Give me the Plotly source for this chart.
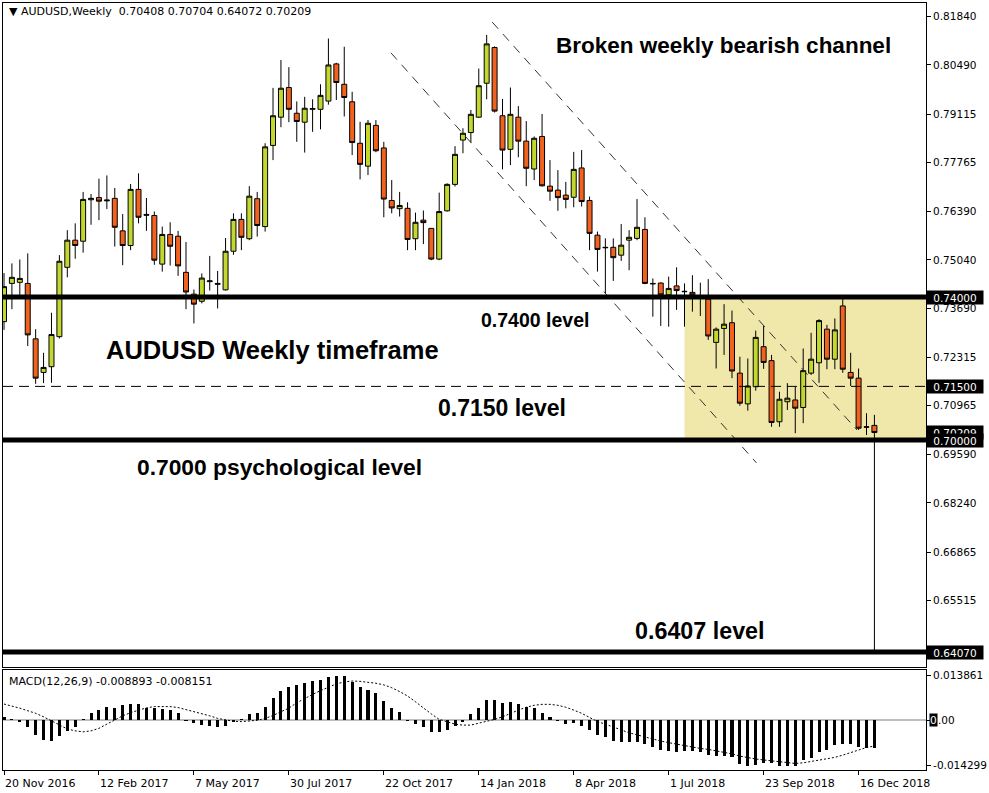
import plotly.graph_objects as go
from datetime import datetime, timedelta

# ---------------- data ----------------
START = datetime(2016, 11, 20)
N_WEEKS = 111
week_dates = [START + timedelta(days=7 * i) for i in range(N_WEEKS)]

opens = [0.7331, 0.7438, 0.7441, 0.7438, 0.7283, 0.7189, 0.7205, 0.7289, 0.7483, 0.7559,
         0.7556, 0.7672, 0.7678, 0.7669, 0.7676, 0.7585, 0.7544, 0.7701, 0.7631, 0.7628,
         0.7492, 0.7575, 0.7570, 0.7469, 0.7408, 0.7388, 0.7443, 0.7438, 0.7420, 0.7528,
         0.7617, 0.7563, 0.7675, 0.7597, 0.7824, 0.7903, 0.7986, 0.7914, 0.7889, 0.7925,
         0.7925, 0.7948, 0.8052, 0.7995, 0.7946, 0.7830, 0.7766, 0.7880, 0.7817, 0.7670,
         0.7647, 0.7648, 0.7563, 0.7615, 0.7592, 0.7506, 0.7641, 0.7715, 0.7839, 0.7860,
         0.7903, 0.7998, 0.8098, 0.7907, 0.7813, 0.7903, 0.7836, 0.7758, 0.7849, 0.7710,
         0.7699, 0.7685, 0.7679, 0.7761, 0.7670, 0.7573, 0.7539, 0.7539, 0.7517, 0.7559,
         0.7564, 0.7589, 0.7438, 0.7439, 0.7406, 0.7431, 0.7416, 0.7413, 0.7401, 0.7394,
         0.7273, 0.7312, 0.7328, 0.7187, 0.7101, 0.7149, 0.7261, 0.7222, 0.7051, 0.7107,
         0.7112, 0.7091, 0.7187, 0.7216, 0.7310, 0.7226, 0.7375, 0.7189, 0.7173, 0.7037,
         0.70408]
highs = [0.7467, 0.7494, 0.7505, 0.7522, 0.7310, 0.7244, 0.7356, 0.7517, 0.7587, 0.7606,
         0.7694, 0.7688, 0.7731, 0.7740, 0.7705, 0.7632, 0.7716, 0.7746, 0.7677, 0.7639,
         0.7597, 0.7609, 0.7585, 0.7554, 0.7421, 0.7466, 0.7515, 0.7473, 0.7565, 0.7634,
         0.7634, 0.7710, 0.7694, 0.7830, 0.7985, 0.8063, 0.8043, 0.7947, 0.7960, 0.7953,
         0.7995, 0.8123, 0.8055, 0.8100, 0.7974, 0.7890, 0.7895, 0.7895, 0.7834, 0.7727,
         0.7694, 0.7665, 0.7636, 0.7642, 0.7593, 0.7692, 0.7718, 0.7822, 0.7872, 0.7923,
         0.8039, 0.8133, 0.8101, 0.7954, 0.7986, 0.7934, 0.7892, 0.7849, 0.7912, 0.7783,
         0.7755, 0.7722, 0.7806, 0.7811, 0.7681, 0.7583, 0.7564, 0.7564, 0.7604, 0.7587,
         0.7674, 0.7623, 0.7452, 0.7441, 0.7457, 0.7483, 0.7438, 0.7461, 0.7440, 0.7450,
         0.7315, 0.7380, 0.7362, 0.7233, 0.7228, 0.7306, 0.7319, 0.7238, 0.7135, 0.7159,
         0.7149, 0.7256, 0.7300, 0.7338, 0.7322, 0.7340, 0.7394, 0.7244, 0.7200, 0.7075,
         0.70704]
lows = [0.7308, 0.7366, 0.7406, 0.7263, 0.7157, 0.7159, 0.7160, 0.7284, 0.7455, 0.7507,
        0.7524, 0.7602, 0.7615, 0.7646, 0.7541, 0.7489, 0.7531, 0.7606, 0.7585, 0.7490,
        0.7471, 0.7488, 0.7459, 0.7366, 0.7326, 0.7382, 0.7418, 0.7368, 0.7418, 0.7518,
        0.7531, 0.7559, 0.7569, 0.7583, 0.7783, 0.7875, 0.7889, 0.7834, 0.7804, 0.7862,
        0.7869, 0.7938, 0.7951, 0.7905, 0.7797, 0.7729, 0.7741, 0.7805, 0.7623, 0.7634,
        0.7625, 0.7531, 0.7531, 0.7548, 0.7503, 0.7503, 0.7639, 0.7709, 0.7802, 0.7832,
        0.7901, 0.7953, 0.7916, 0.7757, 0.7769, 0.7791, 0.7710, 0.7727, 0.7709, 0.7669,
        0.7641, 0.7648, 0.7651, 0.7653, 0.7531, 0.7471, 0.7410, 0.7445, 0.7501, 0.7475,
        0.7559, 0.7436, 0.7345, 0.7319, 0.7317, 0.7364, 0.7317, 0.7359, 0.7347, 0.7280,
        0.7200, 0.7238, 0.7173, 0.7096, 0.7082, 0.7138, 0.7199, 0.7037, 0.7037, 0.7084,
        0.7019, 0.7047, 0.7182, 0.7160, 0.7198, 0.7198, 0.7188, 0.7151, 0.7028, 0.7014,
        0.64072]
closes = [0.7429, 0.7455, 0.7452, 0.7294, 0.7173, 0.7203, 0.7295, 0.7500, 0.7559, 0.7544,
          0.7673, 0.7676, 0.7668, 0.7671, 0.7595, 0.7544, 0.7701, 0.7623, 0.7629, 0.7503,
          0.7575, 0.7542, 0.7487, 0.7414, 0.7380, 0.7453, 0.7445, 0.7436, 0.7528, 0.7617,
          0.7567, 0.7682, 0.7600, 0.7820, 0.7907, 0.7984, 0.7925, 0.7891, 0.7928, 0.7927,
          0.7964, 0.8049, 0.8000, 0.7958, 0.7832, 0.7771, 0.7886, 0.7809, 0.7674, 0.7649,
          0.7656, 0.7561, 0.7609, 0.7608, 0.7506, 0.7639, 0.7715, 0.7799, 0.7858, 0.7911,
          0.7991, 0.8108, 0.7920, 0.7811, 0.7911, 0.7836, 0.7760, 0.7844, 0.7711, 0.7696,
          0.7678, 0.7673, 0.7757, 0.7667, 0.7578, 0.7533, 0.7538, 0.7510, 0.7545, 0.7567,
          0.7595, 0.7438, 0.7437, 0.7406, 0.7424, 0.7418, 0.7415, 0.7406, 0.7400, 0.7291,
          0.7310, 0.7324, 0.7193, 0.7103, 0.7151, 0.7287, 0.7217, 0.7049, 0.7114, 0.7117,
          0.7089, 0.7194, 0.7226, 0.7334, 0.7226, 0.7308, 0.7198, 0.7173, 0.7033, 0.7036,
          0.70209]

macd_main = [0.0008, 0.0002, -0.0005, -0.0021, -0.0047, -0.0063, -0.0066, -0.0050, -0.0034, -0.0021,
             0.0002, 0.0021, 0.0031, 0.0042, 0.0039, 0.0047, 0.0049, 0.0049, 0.0039, 0.0037,
             0.0035, 0.0031, 0.0021, -0.0001, -0.0010, -0.0016, -0.0019, -0.0021, -0.0019, -0.0005,
             0.0001, 0.0019, 0.0021, 0.0042, 0.0068, 0.0091, 0.0104, 0.0110, 0.0117, 0.0122,
             0.0125, 0.0136, 0.0139, 0.0138, 0.0120, 0.0102, 0.0094, 0.0083, 0.0061, 0.0039,
             0.0024, -0.0002, -0.0014, -0.0021, -0.0037, -0.0037, -0.0031, -0.0019, -0.0005, 0.0018,
             0.0037, 0.0063, 0.0063, 0.0054, 0.0057, 0.0050, 0.0042, 0.0037, 0.0023, 0.0010,
             -0.0002, -0.0013, -0.0010, -0.0019, -0.0031, -0.0047, -0.0054, -0.0065, -0.0070, -0.0070,
             -0.0070, -0.0075, -0.0083, -0.0094, -0.0096, -0.0099, -0.0096, -0.0096, -0.0099, -0.0110,
             -0.0113, -0.0112, -0.0117, -0.0138, -0.0143, -0.0141, -0.0134, -0.0134, -0.0143, -0.0143,
             -0.0143, -0.0125, -0.0120, -0.0099, -0.0094, -0.0078, -0.0075, -0.0075, -0.0083, -0.0088,
             -0.008893]
macd_signal = [0.0050, 0.0044, 0.0037, 0.0029, 0.0021, 0.0010, -0.0002, -0.0016, -0.0028, -0.0034,
               -0.0037, -0.0034, -0.0026, -0.0013, 0.0000, 0.0013, 0.0023, 0.0031, 0.0038, 0.0042,
               0.0043, 0.0042, 0.0039, 0.0033, 0.0026, 0.0019, 0.0013, 0.0005, 0.0000, -0.0004,
               -0.0005, -0.0004, -0.0001, 0.0005, 0.0014, 0.0026, 0.0037, 0.0054, 0.0068, 0.0080,
               0.0092, 0.0102, 0.0113, 0.0119, 0.0122, 0.0121, 0.0119, 0.0115, 0.0110, 0.0101,
               0.0089, 0.0075, 0.0057, 0.0037, 0.0019, 0.0002, -0.0006, -0.0013, -0.0016, -0.0016,
               -0.0010, -0.0005, 0.0002, 0.0010, 0.0021, 0.0031, 0.0040, 0.0046, 0.0049, 0.0049,
               0.0046, 0.0040, 0.0031, 0.0021, 0.0008, -0.0005, -0.0013, -0.0023, -0.0031, -0.0040,
               -0.0047, -0.0054, -0.0061, -0.0066, -0.0071, -0.0076, -0.0080, -0.0086, -0.0089, -0.0092,
               -0.0096, -0.0100, -0.0106, -0.0113, -0.0118, -0.0122, -0.0125, -0.0128, -0.0131, -0.0135,
               -0.0136, -0.0134, -0.0130, -0.0127, -0.0123, -0.0117, -0.0110, -0.0102, -0.0096, -0.0086,
               -0.008151]

price_ticks = [0.81840, 0.80490, 0.79115, 0.77765, 0.76390, 0.75040, 0.73690,
               0.72315, 0.70965, 0.69590, 0.68240, 0.66865, 0.65515]
macd_ticks = [0.013861, -0.014299]
level_lines = [0.7400, 0.7000, 0.6407]
dashed_level = 0.7150
marked_prices = [0.74000, 0.71500, 0.70209, 0.70000, 0.64070]
date_tick_idx = [0, 12, 24, 36, 48, 60, 72, 84, 96, 108]
date_tick_text = ["20 Nov 2016", "12 Feb 2017", "7 May 2017", "30 Jul 2017", "22 Oct 2017",
                  "14 Jan 2018", "8 Apr 2018", "1 Jul 2018", "23 Sep 2018", "16 Dec 2018"]
zone_start_idx = 86
# channel lines: (weeks since start, price)
channel_upper = [(61.7, 0.8169), (107.8, 0.7028)]
channel_lower = [(48.9, 0.8083), (95.1, 0.6936)]

header = "▼ AUDUSD,Weekly  0.70408 0.70704 0.64072 0.70209"
macd_header = "MACD(12,26,9) -0.008893 -0.008151"

# ---------------- layout geometry ----------------
W, H = 989, 793
PL, PR, PT, PB = 2, 927, 3, 770          # plot area in px
MAIN_BOTTOM, MACD_TOP = 667, 670
BAR_PX = 7.93
X0_PX = 3.0                              # px of first candle


def wk(x):
    return START + timedelta(days=7 * x)


def px_x(px):
    return (px - PL) / (PR - PL)


def px_y(py):
    return (PB - py) / (PB - PT)


x_range = [wk((PL - X0_PX) / BAR_PX), wk((PR - X0_PX) / BAR_PX)]
y_range = [0.70 - (MAIN_BOTTOM - 440) / 3575.0, 0.70 + (440 - PT) / 3575.0]
y2_range = [-(PB - 720) / 3195.0, (720 - MACD_TOP) / 3195.0]

FONT = "DejaVu Sans"
BOLD = "Liberation Sans"

fig = go.Figure()
fig.add_trace(go.Candlestick(
    x=week_dates, open=opens, high=highs, low=lows, close=closes,
    xaxis="x", yaxis="y",
    increasing=dict(line=dict(color="black", width=1), fillcolor="#c3d82e"),
    decreasing=dict(line=dict(color="black", width=1), fillcolor="#f2621f"),
    whiskerwidth=0, hoverinfo="skip",
))
fig.add_trace(go.Bar(
    x=week_dates, y=macd_main, xaxis="x2", yaxis="y2",
    marker=dict(color="black", line=dict(width=0)),
    width=2.7 * 86400000, hoverinfo="skip",
))
fig.add_trace(go.Scatter(
    x=week_dates, y=macd_signal, xaxis="x2", yaxis="y2", mode="lines",
    line=dict(color="black", width=1, dash="2px,2px"), hoverinfo="skip",
))

shapes = []
# yellow zone
shapes.append(dict(type="rect", xref="x", yref="y", x0=week_dates[zone_start_idx], x1=x_range[1],
                   y0=level_lines[1], y1=level_lines[0], fillcolor="#f0e7aa",
                   line=dict(width=0), layer="below"))
# channel lines
for (a, b) in (channel_upper, channel_lower):
    shapes.append(dict(type="line", xref="x", yref="y", x0=wk(a[0]), y0=a[1], x1=wk(b[0]), y1=b[1],
                       line=dict(color="#333333", width=1, dash="9px,7px"), layer="above"))
# dashed 0.715
shapes.append(dict(type="line", xref="paper", yref="y", x0=0, x1=1, y0=dashed_level, y1=dashed_level,
                   line=dict(color="black", width=1, dash="10px,6px"), layer="above"))
# thick levels
for lv in level_lines:
    shapes.append(dict(type="line", xref="paper", yref="y", x0=0, x1=1, y0=lv, y1=lv,
                       line=dict(color="black", width=5), layer="above"))
# MACD zero line
shapes.append(dict(type="line", xref="paper", yref="y2", x0=0, x1=1, y0=0, y1=0,
                   line=dict(color="#7f7f7f", width=1), layer="below"))

ann = []
ann.append(dict(text=header, xref="paper", yref="paper", x=px_x(6), y=px_y(12), xanchor="left",
                yanchor="middle", showarrow=False, font=dict(family=FONT, size=11, color="#000000")))
ann.append(dict(text=macd_header, xref="paper", yref="paper", x=px_x(6), y=px_y(681), xanchor="left",
                yanchor="middle", showarrow=False, font=dict(family=FONT, size=11, color="#000000")))

big_texts = [
    ("Broken weekly bearish channel", 724.5, 45, 22.5),
    ("AUDUSD Weekly timeframe", 272.5, 350, 25.5),
    ("0.7400 level", 535, 320, 19.5),
    ("0.7150 level", 502.5, 408, 23),
    ("0.7000 psychological level", 279.5, 467, 22.8),
    ("0.6407 level", 701, 631, 23.3),
]
for t, cx, cy, fs in big_texts:
    ann.append(dict(text="<b>%s</b>" % t, xref="paper", yref="paper", x=px_x(cx), y=px_y(cy),
                    xanchor="center", yanchor="middle", showarrow=False,
                    font=dict(family=BOLD, size=fs, color="black")))

for p in marked_prices:
    ann.append(dict(text="%.5f" % p, xref="paper", yref="y", x=1, y=p, xanchor="left", yanchor="middle",
                    showarrow=False, bgcolor="black", font=dict(family=FONT, size=10.5, color="white"),
                    width=54, height=11, borderpad=1, align="center", xshift=0))

# MACD zero label
ann.append(dict(text="0", xref="paper", yref="y2", x=1, y=0, xanchor="left", yanchor="middle",
                showarrow=False, bgcolor="black", font=dict(family=FONT, size=10.5, color="white"),
                borderpad=0, xshift=3))
ann.append(dict(text=".00", xref="paper", yref="y2", x=1, y=0, xanchor="left", yanchor="middle",
                showarrow=False, font=dict(family=FONT, size=10.5, color="black"), xshift=10))

for idx, txt in zip(date_tick_idx, date_tick_text):
    ann.append(dict(text=txt, xref="x2", yref="paper", x=week_dates[idx], y=px_y(783),
                    xanchor="left", yanchor="middle", showarrow=False, xshift=-1,
                    font=dict(family=FONT, size=11, color="black")))

axis_common = dict(showgrid=False, zeroline=False, showline=True, mirror=True,
                   linecolor="black", linewidth=1)

fig.update_layout(
    width=W, height=H,
    margin=dict(l=PL, r=W - PR, t=PT, b=H - PB, pad=0),
    paper_bgcolor="white", plot_bgcolor="white",
    showlegend=False, boxgap=0.37, boxgroupgap=0, bargap=0,
    xaxis=dict(domain=[0, 1], anchor="y", type="date", range=x_range, showticklabels=False,
               ticks="", rangeslider=dict(visible=False), **axis_common),
    xaxis2=dict(domain=[0, 1], anchor="y2", type="date", range=x_range, showticklabels=False,
                ticks="outside", ticklen=4, tickcolor="black",
                tickvals=[week_dates[i] for i in date_tick_idx], **axis_common),
    yaxis=dict(domain=[px_y(MAIN_BOTTOM), 1], anchor="x", side="right", range=y_range,
               tickvals=price_ticks, ticktext=["%.5f" % v for v in price_ticks],
               ticks="outside", ticklen=4, tickcolor="black",
               tickfont=dict(family=FONT, size=10.5, color="black"), **axis_common),
    yaxis2=dict(domain=[0, px_y(MACD_TOP)], anchor="x2", side="right", range=y2_range,
                tickvals=macd_ticks + [0], ticktext=["%.6f" % v for v in macd_ticks] + [""],
                ticks="outside", ticklen=4, tickcolor="black",
                tickfont=dict(family=FONT, size=10.5, color="black"), **axis_common),
    shapes=shapes, annotations=ann,
)

fig.write_html(
    "out.html",
    config={"displayModeBar": False},
    post_script="document.body.style.margin='0';document.body.style.padding='0';"
                "document.body.style.overflow='hidden';",
)
